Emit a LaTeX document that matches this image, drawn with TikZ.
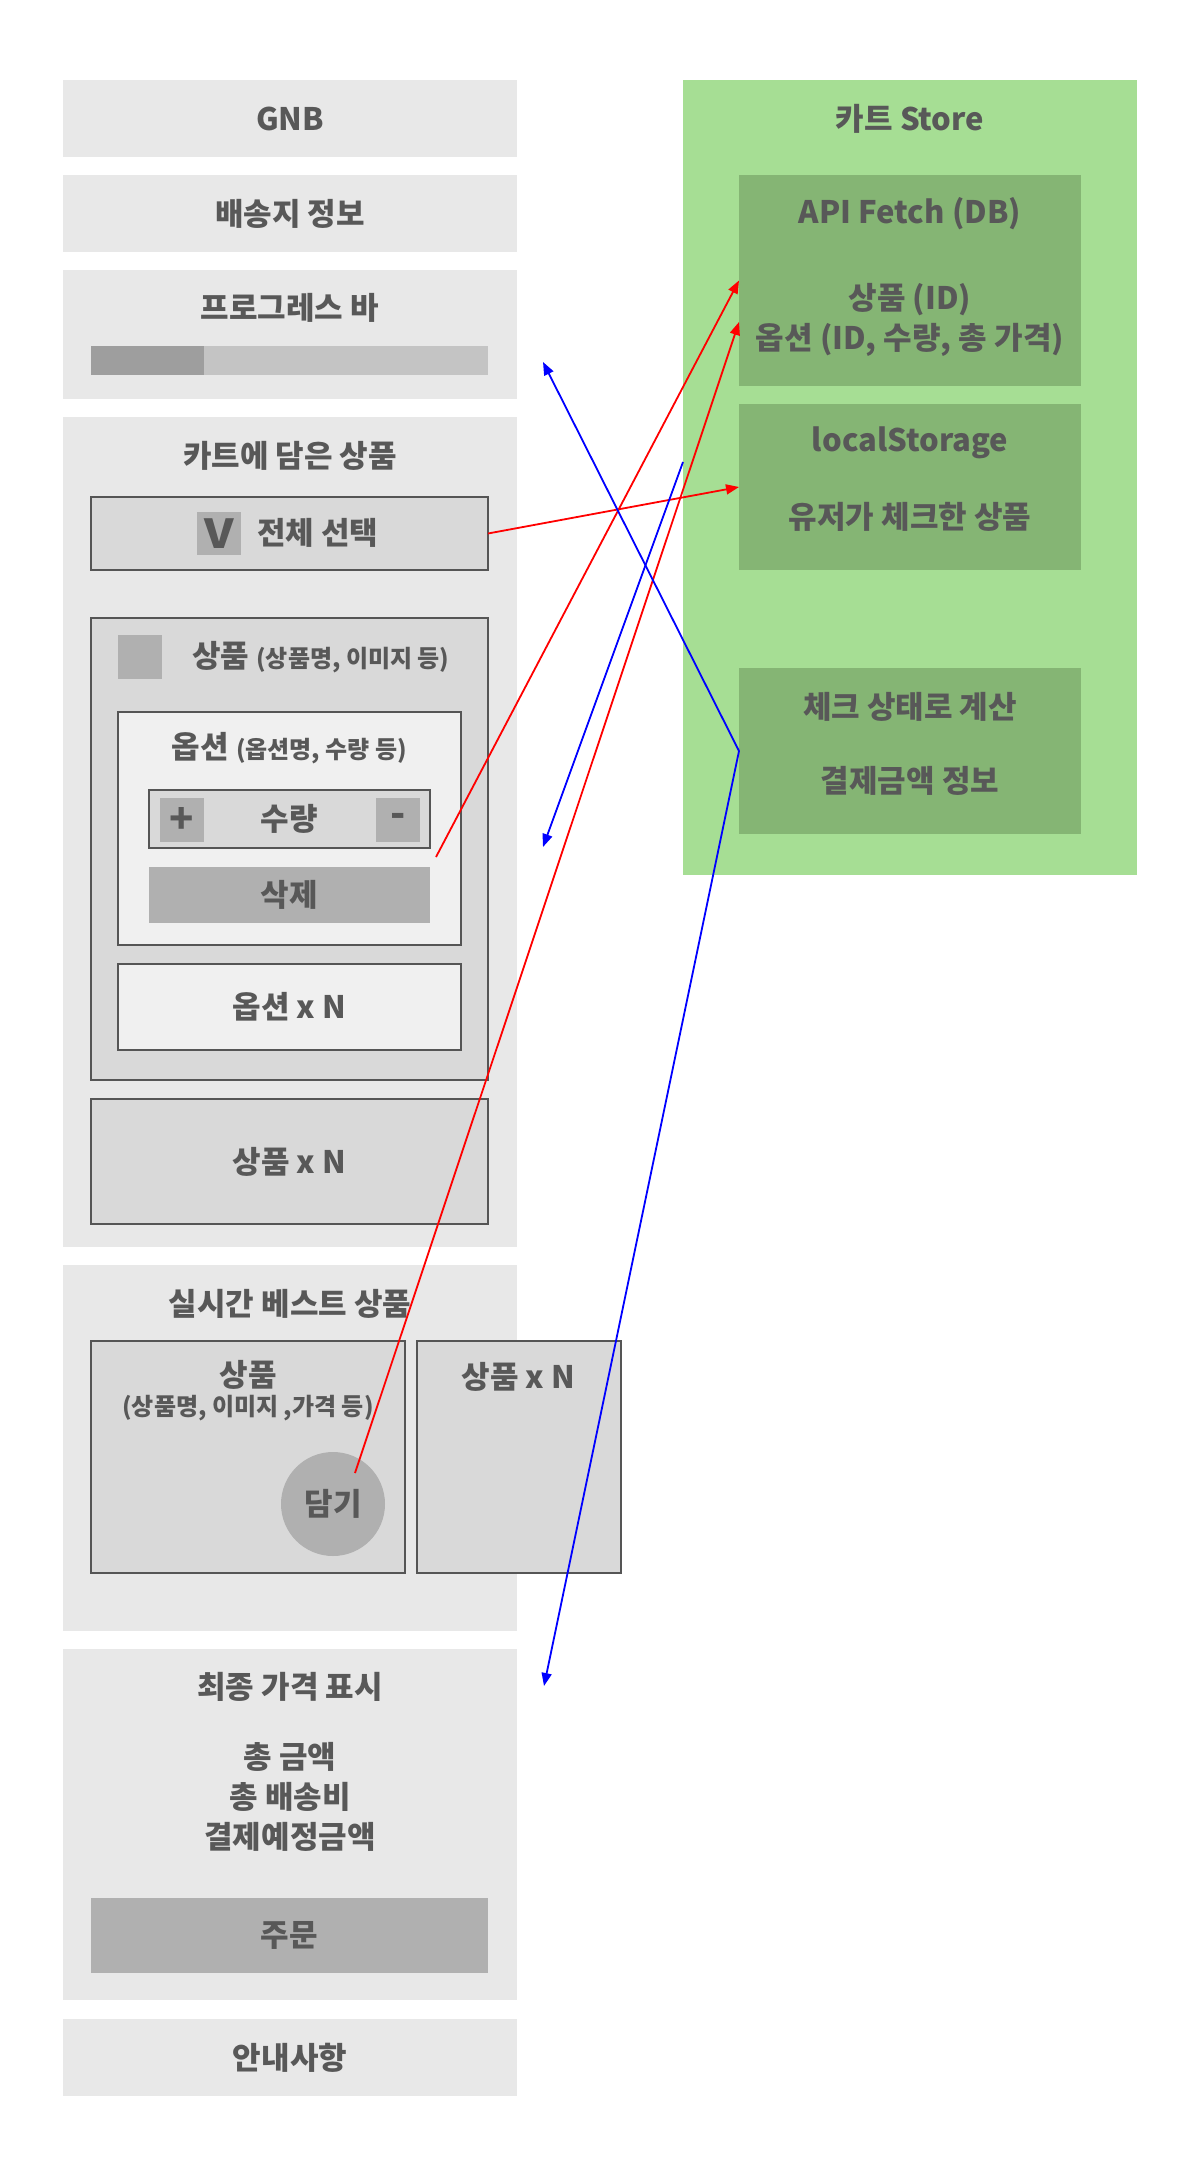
\documentclass[tikz,border=0pt]{standalone}
\usepackage{fontspec}
\setmainfont{Noto Sans CJK KR}
\usetikzlibrary{arrows.meta}
\definecolor{txt}{HTML}{585858}
\definecolor{panelc}{HTML}{E8E8E8}
\definecolor{innerc}{HTML}{D9D9D9}
\definecolor{optc}{HTML}{F0F0F0}
\definecolor{btnc}{HTML}{B0B0B0}
\definecolor{barl}{HTML}{C4C4C4}
\definecolor{bard}{HTML}{9E9E9E}
\definecolor{storec}{HTML}{A6DE94}
\definecolor{storein}{HTML}{85B574}
\definecolor{edgec}{HTML}{555555}
\newcommand\mybox[6]{\node[#2, minimum width=#5pt, minimum height=#6pt] (#1) at (#3,#4) {};}
\tikzset{
  rbox/.style={rectangle, inner sep=0pt, outer sep=0pt, anchor=north west},
  panel/.style={rbox, fill=panelc},
  inbox/.style={rbox, fill=innerc, draw=edgec, line width=1.3pt},
  optbox/.style={rbox, fill=optc, draw=edgec, line width=1.3pt},
  btn/.style={rbox, fill=btnc},
  storebox/.style={rbox, fill=storec},
  storeinner/.style={rbox, fill=storein},
  big/.style={font=\bfseries\fontsize{31}{40}\selectfont, text=txt, inner sep=0pt, align=center},
  small/.style={font=\bfseries\fontsize{24}{28}\selectfont, text=txt, inner sep=0pt},
  sign/.style={font=\bfseries\fontsize{40}{40}\selectfont, text=txt, inner sep=0pt},
  redarr/.style={draw=red, line width=1.8pt, -{Triangle[length=13pt,width=10pt]}},
  bluearr/.style={draw=blue, line width=1.8pt, -{Triangle[length=13pt,width=10pt]}},
}
\begin{document}
\begin{tikzpicture}[x=1pt,y=-1pt]
\useasboundingbox[fill=white] (0,0) rectangle (1200,2176);

% ---------- left column ----------
\mybox{gnb}{panel}{63}{80}{454}{77}
\node[big] (gnbt) at (290,118.5) {GNB};
\mybox{ship}{panel}{63}{175}{454}{77}
\node[big] (shipt) at (290,213.5) {배송지 정보};
\mybox{prog}{panel}{63}{270}{454}{129}
\node[big] (progt) at (290,308) {프로그레스 바};
\mybox{barL}{rbox,fill=barl}{91}{346}{397}{29}
\mybox{barD}{rbox,fill=bard}{91}{346}{113}{29}

\mybox{cart}{panel}{63}{417}{454}{830}
\node[big] (cartt) at (290,456) {카트에 담은 상품};
\mybox{selall}{inbox}{91}{497}{397}{73}
\mybox{vsq}{btn}{197}{512}{44}{43}
\node[font=\bfseries\fontsize{40}{40}\selectfont, text=txt, inner sep=0pt, xscale=1.15] (vt) at (vsq.center) {V};
\node[big, anchor=west] (selallt) at (257,533) {전체 선택};

\mybox{prod}{inbox}{91}{618}{397}{462}
\mybox{prodsq}{btn}{118}{635}{44}{44}
\node[anchor=west, inner sep=0pt, text=txt] (prodt) at (192,657)
  {\bfseries\fontsize{31}{36}\selectfont 상품 \fontsize{24}{28}\selectfont(상품명, 이미지 등)};
\mybox{opt}{optbox}{118}{712}{343}{233}
\node[inner sep=0pt, text=txt] (optt) at (289.5,748)
  {\bfseries\fontsize{31}{36}\selectfont 옵션 \fontsize{24}{28}\selectfont(옵션명, 수량 등)};
\mybox{qty}{inbox}{149}{790}{281}{58}
\mybox{plus}{btn}{160}{798}{44}{44}
\mybox{minus}{btn}{376}{798}{44}{44}
\node[sign] (plust) at (plus.center) {+};
\node[sign] (minust) at (minus.center) {-};
\node[big] (qtyt) at (289.5,819) {수량};
\mybox{del}{btn}{149}{867}{281}{56}
\node[big] (delt) at (del.center) {삭제};
\mybox{optN}{optbox}{118}{964}{343}{86}
\node[big] (optNt) at (optN.center) {옵션 x N};
\mybox{prodN}{inbox}{91}{1099}{397}{125}
\node[big] (prodNt) at (prodN.center) {상품 x N};

\mybox{best}{panel}{63}{1265}{454}{366}
\node[big] (bestt) at (290,1304) {실시간 베스트 상품};
\mybox{bp}{inbox}{91}{1341}{314}{232}
\node[big] (bpt) at (248,1375) {상품};
\node[small] (bpsub) at (248,1408) {(상품명, 이미지 ,가격 등)};
\node[circle, fill=btnc, minimum size=104pt, inner sep=0pt] (dam) at (333,1504) {};
\node[big] (damt) at (dam.center) {담기};
\mybox{bpN}{inbox}{417}{1341}{204}{232}
\node[big] (bpNt) at (518.5,1377) {상품 x N};

\mybox{final}{panel}{63}{1649}{454}{351}
\node[big] (finalt) at (290,1687) {최종 가격 표시};
\node[big] (finall) at (290,1797) {총 금액\\총 배송비\\결제예정금액};
\mybox{order}{btn}{91}{1898}{397}{75}
\node[big] (ordert) at (order.center) {주문};

\mybox{info}{panel}{63}{2019}{454}{77}
\node[big] (infot) at (info.center) {안내사항};

% ---------- store ----------
\mybox{store}{storebox}{683}{80}{454}{795}
\node[big] (storet) at (910,119) {카트 Store};
\mybox{api}{storeinner}{739}{175}{342}{211}
\node[big] (apit) at (910,214) {API Fetch (DB)};
\node[big] (apil) at (910,320) {상품 (ID)\\옵션 (ID, 수량, 총 가격)};
\mybox{ls}{storeinner}{739}{404}{342}{166}
\node[big] (lst) at (910,443) {localStorage};
\node[big] (lsl) at (910,517) {유저가 체크한 상품};
\mybox{chk}{storeinner}{739}{668}{342}{166}
\node[big] (chkt) at (910,707) {체크 상태로 계산};
\node[big] (chkl) at (910,781) {결제금액 정보};

% ---------- connectors ----------
\coordinate (r1s) at (436,857);
\coordinate (r2s) at (355,1473);
\coordinate (r2e) at (739,322);
\coordinate (b1e) at (543,362);
\coordinate (b2e) at (544,1686);
\coordinate (b3s) at (683,462);
\coordinate (b3e) at (543,847);

\draw[redarr] (selall.east) -- (ls.west);
\draw[redarr] (r1s) -- (api.west);
\draw[redarr] (r2s) -- (r2e);
\draw[bluearr] (chk.west) -- (b1e);
\draw[bluearr] (chk.west) -- (b2e);
\draw[bluearr] (b3s) -- (b3e);
\end{tikzpicture}
\end{document}
